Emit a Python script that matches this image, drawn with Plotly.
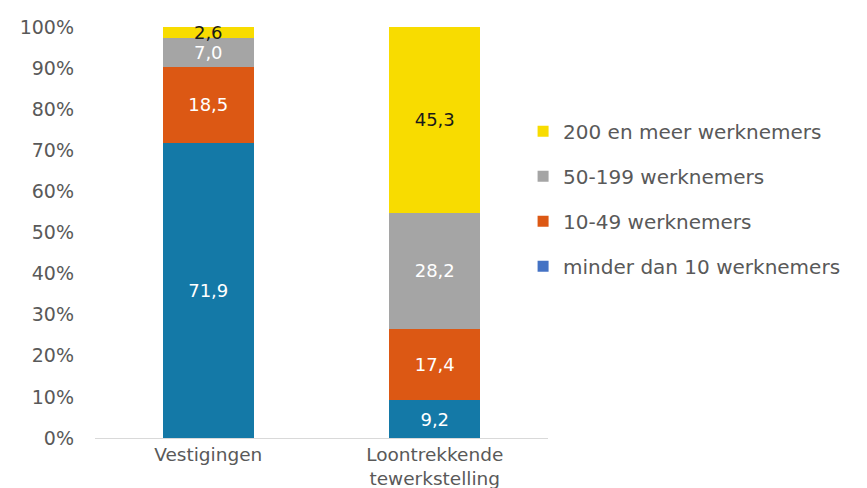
import plotly.graph_objects as go

categories = ["Vestigingen", "Loontrekkende<br>tewerkstelling"]
series_names = ["minder dan 10 werknemers", "10-49 werknemers", "50-199 werknemers", "200 en meer werknemers"]
minder_10 = [71.9, 9.2]
w10_49 = [18.5, 17.4]
w50_199 = [7.0, 28.2]
w200_plus = [2.6, 45.3]
y_ticks = [0, 10, 20, 30, 40, 50, 60, 70, 80, 90, 100]
y_tick_labels = [f"{t}%" for t in y_ticks]

bar_colors = ["#1479A7", "#DC5814", "#A5A5A5", "#F8DC00"]
legend_colors = ["#4472C4", "#DC5814", "#A5A5A5", "#F8DC00"]
text_colors = ["white", "white", "white", "#1a1a1a"]
FONT = "DejaVu Sans"
GREY = "#595959"

fig = go.Figure()
for name, vals, col, tc in zip(series_names, [minder_10, w10_49, w50_199, w200_plus], bar_colors, text_colors):
    fig.add_trace(go.Bar(
        x=categories, y=vals, name=name, showlegend=False,
        marker=dict(color=col, line=dict(width=0)),
        texttemplate="%{y:.1f}", textposition="inside", insidetextanchor="middle",
        textangle=0, constraintext="none",
        textfont=dict(family=FONT, size=18, color=tc),
        hoverinfo="skip",
    ))

# legend entries (top to bottom)
for i in [3, 2, 1, 0]:
    fig.add_trace(go.Scatter(
        x=[None], y=[None], mode="markers", name=series_names[i],
        legendgroup=series_names[i],
        marker=dict(symbol="square", size=11, color=legend_colors[i]),
    ))

fig.update_layout(
    width=867, height=488,
    margin=dict(l=95, r=319, t=25, b=50),
    barmode="stack", bargap=0.6,
    separators=",.",
    plot_bgcolor="white", paper_bgcolor="white",
    font=dict(family=FONT, size=19, color=GREY),
    legend=dict(
        x=0.945, xanchor="left", y=0.79, yanchor="top",
        traceorder="grouped", tracegroupgap=16,
        font=dict(family=FONT, size=20, color=GREY),
        bgcolor="rgba(0,0,0,0)",
    ),
    xaxis=dict(
        showline=True, linecolor="#D9D9D9", linewidth=1, automargin=False,
        showgrid=False, ticks="", ticklen=0, tickfont=dict(family=FONT, size=18.5, color=GREY),
    ),
    yaxis=dict(
        range=[0, 100.5], tickvals=y_ticks, ticktext=y_tick_labels,
        showgrid=False, zeroline=False, showline=False, ticks="", automargin=False,
        ticklabelstandoff=20,
        tickfont=dict(family=FONT, size=19, color=GREY),
    ),
)

fig.write_html("out.html")
